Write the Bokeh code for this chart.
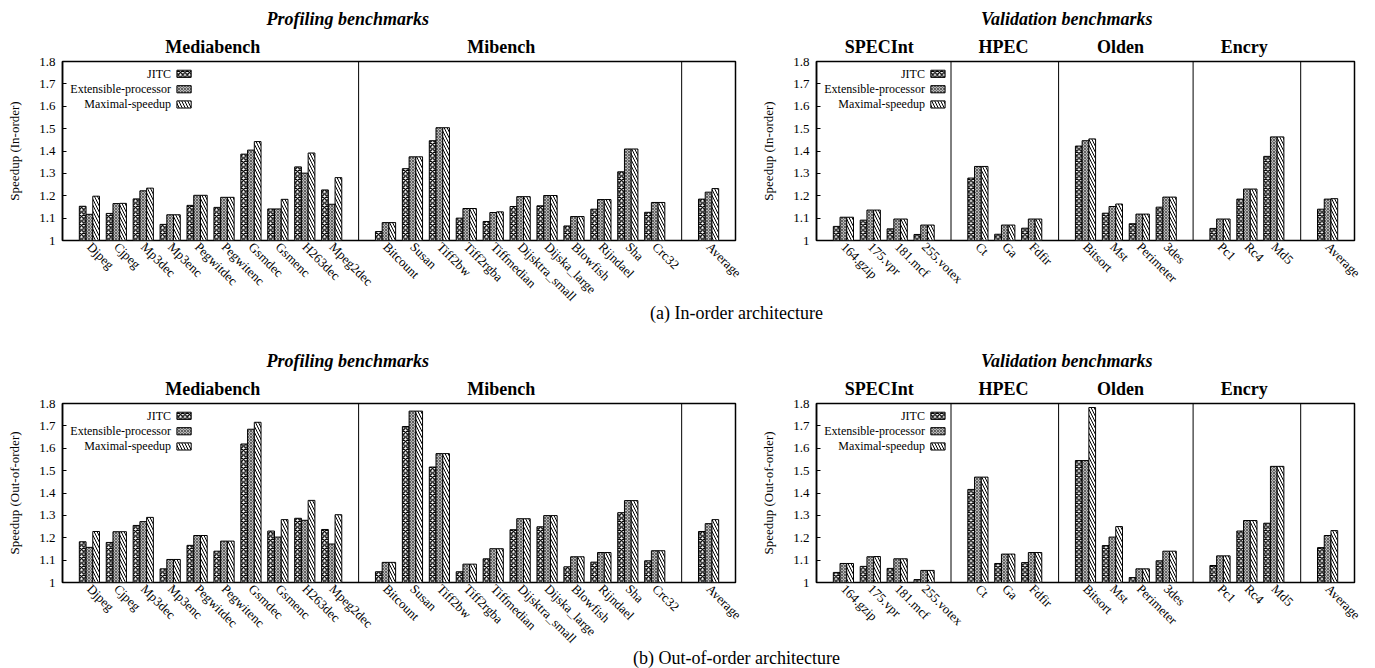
import math
from bokeh.plotting import figure
from bokeh.models import (ColumnDataSource, FixedTicker, Span, Label, LinearAxis,
                          BoxAnnotation, Range1d, PrintfTickFormatter)
from bokeh.layouts import column, row
from bokeh.embed import file_html
from bokeh.resources import INLINE

FONT = "Liberation Serif"
SERIES = ["JITC", "Extensible-processor", "Maximal-speedup"]

# ---------------- categories ----------------
media_names = ["Djpeg", "Cjpeg", "Mp3dec", "Mp3enc", "Pegwitdec", "Pegwitenc",
               "Gsmdec", "Gsmenc", "H263dec", "Mpeg2dec"]
mi_names = ["Bitcount", "Susan", "Tiff2bw", "Tiff2rgba", "Tiffmedian", "Dijsktra_small",
            "Dijska_large", "Blowfish", "Rijndael", "Sha", "Crc32"]
spec_names = ["164.gzip", "175.vpr", "181.mcf", "255.votex"]
hpec_names = ["Ct", "Ga", "Fdfir"]
olden_names = ["Bitsort", "Mst", "Perimeter", "3des"]
encry_names = ["Pc1", "Rc4", "Md5"]
avg_names = ["Average"]

prof_groups = [("Mediabench", media_names), ("Mibench", mi_names), ("", avg_names)]
val_groups = [("SPECInt", spec_names), ("HPEC", hpec_names), ("Olden", olden_names),
              ("Encry", encry_names), ("", avg_names)]

# ---------------- values: in-order, profiling ----------------
io_prof_jitc = [1.153, 1.121, 1.186, 1.072, 1.157, 1.148, 1.386, 1.141, 1.329, 1.226,
                1.040, 1.321, 1.446, 1.100, 1.085, 1.152, 1.155, 1.065, 1.140, 1.307, 1.126,
                1.185]
io_prof_ext = [1.117, 1.165, 1.222, 1.115, 1.202, 1.193, 1.404, 1.141, 1.301, 1.162,
               1.080, 1.374, 1.504, 1.143, 1.125, 1.196, 1.201, 1.107, 1.183, 1.409, 1.170,
               1.216]
io_prof_max = [1.198, 1.166, 1.234, 1.115, 1.202, 1.193, 1.442, 1.184, 1.391, 1.281,
               1.080, 1.374, 1.504, 1.143, 1.128, 1.196, 1.201, 1.107, 1.183, 1.409, 1.170,
               1.232]

# ---------------- values: in-order, validation ----------------
io_val_jitc = [1.063, 1.091, 1.052, 1.027, 1.279, 1.028, 1.055,
               1.422, 1.122, 1.075, 1.149, 1.054, 1.185, 1.376, 1.140]
io_val_ext = [1.104, 1.136, 1.096, 1.069, 1.331, 1.069, 1.096,
              1.446, 1.152, 1.118, 1.194, 1.096, 1.230, 1.463, 1.185]
io_val_max = [1.104, 1.136, 1.096, 1.069, 1.331, 1.069, 1.096,
              1.454, 1.163, 1.118, 1.194, 1.096, 1.230, 1.463, 1.187]

# ---------------- values: out-of-order, profiling ----------------
oo_prof_jitc = [1.182, 1.179, 1.255, 1.061, 1.166, 1.140, 1.619, 1.230, 1.287, 1.237,
                1.048, 1.697, 1.516, 1.048, 1.106, 1.236, 1.249, 1.070, 1.091, 1.312, 1.097,
                1.228]
oo_prof_ext = [1.157, 1.227, 1.272, 1.103, 1.210, 1.185, 1.685, 1.203, 1.278, 1.172,
               1.090, 1.766, 1.576, 1.082, 1.151, 1.285, 1.299, 1.115, 1.134, 1.366, 1.142,
               1.263]
oo_prof_max = [1.228, 1.227, 1.291, 1.103, 1.210, 1.185, 1.716, 1.281, 1.367, 1.303,
               1.090, 1.766, 1.576, 1.082, 1.151, 1.285, 1.299, 1.115, 1.134, 1.366, 1.142,
               1.281]

# ---------------- values: out-of-order, validation ----------------
oo_val_jitc = [1.045, 1.072, 1.063, 1.013, 1.416, 1.085, 1.089,
               1.545, 1.165, 1.022, 1.097, 1.076, 1.230, 1.265, 1.156]
oo_val_ext = [1.085, 1.115, 1.106, 1.054, 1.471, 1.127, 1.134,
              1.545, 1.203, 1.061, 1.140, 1.119, 1.277, 1.519, 1.210]
oo_val_max = [1.085, 1.116, 1.106, 1.054, 1.471, 1.127, 1.134,
              1.782, 1.250, 1.061, 1.140, 1.119, 1.277, 1.519, 1.232]

y_ticks = [1.0, 1.1, 1.2, 1.3, 1.4, 1.5, 1.6, 1.7, 1.8]

# layout constants (label placement)
prof_title_x = [5.58, 16.3]
val_title_x = [2.33, 6.95, 11.3, 15.9]
prof_super_x = 10.6
val_super_x = 9.3

STYLES = [
    dict(fill_color="white", hatch_pattern="x", hatch_color="black", hatch_scale=4.5, hatch_weight=1.4),
    dict(fill_color="#b8b8b8", hatch_pattern="x", hatch_color="#4a4a4a", hatch_scale=3, hatch_weight=0.8),
    dict(fill_color="white", hatch_pattern="\\", hatch_color="black", hatch_scale=6, hatch_weight=1),
]


def layout_positions(groups):
    pos, divs, names = [], [], []
    x = 1
    for gi, (_, nm) in enumerate(groups):
        for n in nm:
            pos.append(x)
            names.append(n)
            x += 1
        if gi < len(groups) - 1:
            divs.append(x)
            x += 1
    return pos, divs, names, x


def title_axis(ticks, labels, size, style, standoff):
    ax = LinearAxis(ticker=FixedTicker(ticks=ticks),
                    major_label_overrides=dict(zip(ticks, labels)))
    ax.axis_line_color = None
    ax.major_tick_line_color = None
    ax.minor_tick_line_color = None
    ax.major_tick_in = 0
    ax.major_tick_out = 0
    ax.major_label_standoff = standoff
    ax.major_label_orientation = "horizontal"
    ax.major_label_text_font = FONT
    ax.major_label_text_font_size = size
    ax.major_label_text_font_style = style
    ax.major_label_text_color = "black"
    return ax


def make_panel(groups, series_vals, ylabel, width, height, bl, br, bt, bb,
               title_xs, super_title, super_x):
    pos, divs, names, end = layout_positions(groups)
    p = figure(width=width, height=height, x_range=Range1d(0, end), y_range=Range1d(1.0, 1.8),
               toolbar_location=None, output_backend="svg",
               min_border_left=bl, min_border_right=br, min_border_top=bt, min_border_bottom=bb,
               background_fill_color="white", border_fill_color="white")
    p.grid.visible = False
    p.outline_line_color = "black"
    p.outline_line_width = 1.5
    p.outline_line_alpha = 1

    ax = p.yaxis[0]
    ax.ticker = FixedTicker(ticks=y_ticks)
    ax.formatter = PrintfTickFormatter(format="%g")
    ax.major_tick_in = 4
    ax.major_tick_out = 0
    ax.minor_tick_line_color = None
    ax.axis_line_width = 1.5
    ax.major_label_standoff = 7
    ax.major_label_text_font = FONT
    ax.major_label_text_font_size = "13px"
    ax.major_label_text_color = "black"
    ax.axis_label = ylabel
    ax.axis_label_text_font = FONT
    ax.axis_label_text_font_size = "13px"
    ax.axis_label_text_font_style = "normal"
    ax.axis_label_text_color = "black"
    ax.axis_label_standoff = 14

    xa = p.xaxis[0]
    xa.ticker = FixedTicker(ticks=pos)
    xa.major_label_overrides = dict(zip(pos, names))
    xa.major_label_orientation = -math.pi / 4
    xa.major_tick_line_color = None
    xa.minor_tick_line_color = None
    xa.major_tick_in = 0
    xa.major_tick_out = 0
    xa.axis_line_color = None
    xa.major_label_standoff = 4
    xa.major_label_text_font = FONT
    xa.major_label_text_font_size = "13px"
    xa.major_label_text_color = "black"

    for i, vals in enumerate(series_vals):
        src = ColumnDataSource(dict(x=[q + (i - 1) * 0.25 for q in pos], top=vals))
        p.vbar(x="x", top="top", bottom=1.0, width=0.25, source=src,
               line_color="black", line_width=1, **STYLES[i])

    for d in divs:
        p.add_layout(Span(location=d, dimension="height", line_color="black", line_width=1))

    legend_y = [1.745, 1.676, 1.608]
    for i, name in enumerate(SERIES):
        p.add_layout(Label(x=4.03, y=legend_y[i], text=name, text_align="right",
                           text_baseline="middle", text_font=FONT, text_font_size="12px",
                           text_color="black"))
        p.add_layout(BoxAnnotation(left=4.25, right=4.78, bottom=legend_y[i] - 0.016,
                                   top=legend_y[i] + 0.016, line_color="black", line_width=1,
                                   line_alpha=1, fill_alpha=1, **STYLES[i]))

    titled = [g[0] for g in groups if g[0]]
    p.add_layout(title_axis(title_xs, titled, "18px", "bold", 5), "above")
    p.add_layout(title_axis([super_x], [super_title], "18px", "bold italic", 5), "above")
    return p


def caption(text, height, cy):
    c = figure(width=1375, height=height, x_range=Range1d(0, 1375), y_range=Range1d(0, height),
               x_axis_location=None, y_axis_location=None, toolbar_location=None,
               output_backend="svg", min_border=0, outline_line_color=None,
               background_fill_color=None, border_fill_color=None)
    c.grid.visible = False
    c.add_layout(Label(x=736, y=cy, text=text, text_align="center", text_baseline="middle",
                       text_font=FONT, text_font_size="18px", text_color="black"))
    return c


p1 = make_panel(prof_groups, [io_prof_jitc, io_prof_ext, io_prof_max], "Speedup (In-order)",
                750, 312, 62, 15, 61, 72, prof_title_x, "Profiling benchmarks", prof_super_x)
p2 = make_panel(val_groups, [io_val_jitc, io_val_ext, io_val_max], "Speedup (In-order)",
                625, 312, 66, 21, 61, 72, val_title_x, "Validation benchmarks", val_super_x)
p3 = make_panel(prof_groups, [oo_prof_jitc, oo_prof_ext, oo_prof_max], "Speedup (Out-of-order)",
                750, 330, 62, 15, 79, 72, prof_title_x, "Profiling benchmarks", prof_super_x)
p4 = make_panel(val_groups, [oo_val_jitc, oo_val_ext, oo_val_max], "Speedup (Out-of-order)",
                625, 330, 66, 21, 79, 72, val_title_x, "Validation benchmarks", val_super_x)

cap1 = caption("(a) In-order architecture", 24, 12)
cap1.margin = (-12, 0, 0, 0)
cap2 = caption("(b) Out-of-order architecture", 22, 11)
cap2.margin = (-8, 0, 0, 0)

layout = column(row(p1, p2), cap1, row(p3, p4), cap2)
open("out.html", "w").write(file_html(layout, INLINE))
